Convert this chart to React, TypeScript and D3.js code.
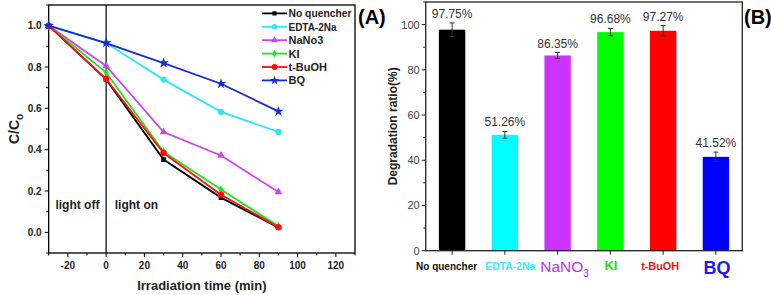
import { useEffect, useRef } from "react";
import * as d3 from "d3";

// panel A: C/C0 vs irradiation time
const times = [-30, 0, 30, 60, 90];
const seriesNames = ["No quencher", "EDTA-2Na", "NaNo3", "KI", "t-BuOH", "BQ"];
const noQuencher = [1.0, 0.74, 0.352, 0.168, 0.023];
const edta = [1.0, 0.916, 0.739, 0.583, 0.486];
const nano3 = [1.0, 0.805, 0.485, 0.372, 0.195];
const ki = [1.0, 0.773, 0.39, 0.207, 0.03];
const tbuoh = [1.0, 0.742, 0.384, 0.182, 0.025];
const bq = [1.0, 0.916, 0.819, 0.719, 0.585];
const lineColors = ["#000000", "#2ee6f0", "#cc44ee", "#22e022", "#ff1010", "#1a2ad6"];

// panel B: degradation ratio
const categories = ["No quencher", "EDTA-2Na", "NaNO3", "KI", "t-BuOH", "BQ"];
const ratios = [97.75, 51.26, 86.35, 96.68, 97.27, 41.52];
const ratioErrors = [3.0, 1.5, 1.3, 1.6, 2.3, 2.1];
const barColors = ["#000000", "#00ffff", "#cc33ff", "#00ff00", "#ff0000", "#0000ff"];

const FONT = "'Liberation Sans', Arial, sans-serif";

const App = () => {
  const ref = useRef<SVGSVGElement | null>(null);

  useEffect(() => {
    if (!ref.current) return;
    const svg = d3.select(ref.current);
    svg.selectAll("*").remove();
    svg.style("font-family", FONT);

    // ---------- panel A ----------
    const ax = { l: 48.7, r: 355, t: 5, b: 253 };
    const x = d3.scaleLinear().domain([-30, 130]).range([ax.l, ax.r]);
    const y = d3.scaleLinear().domain([-0.1, 1.1]).range([ax.b, ax.t]);
    const gA = svg.append("g");

    gA.append("rect")
      .attr("x", ax.l).attr("y", ax.t)
      .attr("width", ax.r - ax.l).attr("height", ax.b - ax.t)
      .attr("fill", "none").attr("stroke", "#000").attr("stroke-width", 1.3);

    // x ticks
    const xMajor = d3.range(-20, 121, 20);
    const xMinor = d3.range(-30, 131, 10).filter(v => !xMajor.includes(v));
    gA.selectAll(".xmaj").data(xMajor).enter().append("line")
      .attr("x1", d => x(d)).attr("x2", d => x(d))
      .attr("y1", ax.b).attr("y2", ax.b + 4).attr("stroke", "#000");
    gA.selectAll(".xmin").data(xMinor).enter().append("line")
      .attr("x1", d => x(d)).attr("x2", d => x(d))
      .attr("y1", ax.b).attr("y2", ax.b + 2.5).attr("stroke", "#000");
    gA.selectAll(".xlab").data(xMajor).enter().append("text")
      .attr("x", d => x(d)).attr("y", ax.b + 16)
      .attr("text-anchor", "middle").attr("font-size", 10).attr("font-weight", "bold")
      .attr("fill", "#222")
      .text(d => d);

    // y ticks
    const yMajor = [0, 0.2, 0.4, 0.6, 0.8, 1.0];
    const yMinor = [-0.1, 0.1, 0.3, 0.5, 0.7, 0.9, 1.1];
    gA.selectAll(".ymaj").data(yMajor).enter().append("line")
      .attr("x1", ax.l - 4).attr("x2", ax.l)
      .attr("y1", d => y(d)).attr("y2", d => y(d)).attr("stroke", "#000");
    gA.selectAll(".ymin").data(yMinor).enter().append("line")
      .attr("x1", ax.l - 2.5).attr("x2", ax.l)
      .attr("y1", d => y(d)).attr("y2", d => y(d)).attr("stroke", "#000");
    gA.selectAll(".ylab").data(yMajor).enter().append("text")
      .attr("x", ax.l - 7).attr("y", d => y(d) + 3.5)
      .attr("text-anchor", "end").attr("font-size", 10).attr("font-weight", "bold")
      .attr("fill", "#222")
      .text(d => d.toFixed(1));

    // vertical line at t=0
    gA.append("line")
      .attr("x1", x(0)).attr("x2", x(0)).attr("y1", ax.t).attr("y2", ax.b)
      .attr("stroke", "#000").attr("stroke-width", 1.2);

    gA.append("text").attr("x", x(-15)).attr("y", y(0.115))
      .attr("text-anchor", "middle").attr("font-size", 12).attr("font-weight", "bold")
      .attr("fill", "#222").text("light off");
    gA.append("text").attr("x", x(4.5)).attr("y", y(0.115))
      .attr("font-size", 12).attr("font-weight", "bold")
      .attr("fill", "#222").text("light on");

    const seriesValues = [noQuencher, edta, nano3, ki, tbuoh, bq];
    const symbols = [d3.symbolSquare, d3.symbolCircle, d3.symbolTriangle, d3.symbolDiamond, d3.symbolCircle, d3.symbolStar];
    const symSizes = [22, 30, 26, 22, 34, 34];
    const line = d3.line<number>().x((_, i) => x(times[i])).y(d => y(d));

    seriesValues.forEach((vals, si) => {
      gA.append("path").datum(vals)
        .attr("d", line)
        .attr("fill", "none").attr("stroke", lineColors[si]).attr("stroke-width", 1.8);
      const sym = d3.symbol().type(symbols[si]).size(symSizes[si]);
      gA.selectAll(`.pt${si}`).data(vals).enter().append("path")
        .attr("transform", (d, i) => `translate(${x(times[i])},${y(d)})`)
        .attr("d", sym()!)
        .attr("fill", lineColors[si]);
    });

    // legend
    const leg = gA.append("g");
    seriesNames.forEach((name, i) => {
      const ly = 13.4 + i * 13.4;
      leg.append("line").attr("x1", 262).attr("x2", 287).attr("y1", ly).attr("y2", ly)
        .attr("stroke", lineColors[i]).attr("stroke-width", 1.8);
      const sym = d3.symbol().type(symbols[i]).size(symSizes[i] * 0.8);
      leg.append("path").attr("transform", `translate(274.5,${ly})`)
        .attr("d", sym()!).attr("fill", lineColors[i]);
      const t = leg.append("text").attr("x", 288.5).attr("y", ly + 4)
        .attr("font-size", 11).attr("font-weight", "bold").attr("fill", "#222")
        .text(name);
      if (i === 0) t.attr("textLength", 63).attr("lengthAdjust", "spacingAndGlyphs");
      if (i === 1) t.attr("textLength", 48).attr("lengthAdjust", "spacingAndGlyphs");
    });

    gA.append("text").attr("x", 358).attr("y", 24)
      .attr("font-size", 20).attr("font-weight", "bold").text("(A)");

    // axis titles
    gA.append("text").attr("x", (ax.l + ax.r) / 2).attr("y", 290)
      .attr("text-anchor", "middle").attr("font-size", 13).attr("font-weight", "bold")
      .attr("fill", "#222").text("Irradiation time (min)");
    const yt = gA.append("text")
      .attr("transform", `translate(19,${(ax.t + ax.b) / 2}) rotate(-90)`)
      .attr("text-anchor", "middle").attr("font-size", 14).attr("font-weight", "bold")
      .attr("fill", "#222");
    yt.append("tspan").text("C/C");
    yt.append("tspan").attr("font-size", 10).attr("dy", 4).text("o");

    // ---------- panel B ----------
    const bx = { l: 425.7, r: 742.3, t: 2, b: 250.7 };
    const xb = d3.scaleBand<string>().domain(categories).range([bx.l, bx.r])
      .paddingInner(0.5).paddingOuter(0.25);
    const yb = d3.scaleLinear().domain([0, 110]).range([bx.b, bx.t]);
    const gB = svg.append("g");

    gB.selectAll(".bar").data(ratios).enter().append("rect")
      .attr("x", (_, i) => xb(categories[i])!)
      .attr("y", d => yb(d))
      .attr("width", xb.bandwidth())
      .attr("height", d => bx.b - yb(d))
      .attr("fill", (_, i) => barColors[i]);

    // error bars
    ratios.forEach((v, i) => {
      const cx = xb(categories[i])! + xb.bandwidth() / 2;
      const e = ratioErrors[i];
      const g = gB.append("g").attr("stroke", "#333").attr("stroke-width", 1);
      g.append("line").attr("x1", cx).attr("x2", cx).attr("y1", yb(v + e)).attr("y2", yb(v - e));
      g.append("line").attr("x1", cx - 2.5).attr("x2", cx + 2.5).attr("y1", yb(v + e)).attr("y2", yb(v + e));
      g.append("line").attr("x1", cx - 2.5).attr("x2", cx + 2.5).attr("y1", yb(v - e)).attr("y2", yb(v - e));
      gB.append("text").attr("x", cx).attr("y", yb(v + e) - 5)
        .attr("text-anchor", "middle").attr("font-size", 12).attr("fill", "#333")
        .text(`${v.toFixed(2)}%`);
    });

    gB.append("rect")
      .attr("x", bx.l).attr("y", bx.t)
      .attr("width", bx.r - bx.l).attr("height", bx.b - bx.t)
      .attr("fill", "none").attr("stroke", "#222").attr("stroke-width", 1.3);

    const ybMajor = [0, 20, 40, 60, 80, 100];
    const ybMinor = [10, 30, 50, 70, 90, 110];
    gB.selectAll(".ybmaj").data(ybMajor).enter().append("line")
      .attr("x1", bx.l - 4).attr("x2", bx.l)
      .attr("y1", d => yb(d)).attr("y2", d => yb(d)).attr("stroke", "#222");
    gB.selectAll(".ybmin").data(ybMinor).enter().append("line")
      .attr("x1", bx.l - 2.5).attr("x2", bx.l)
      .attr("y1", d => yb(d)).attr("y2", d => yb(d)).attr("stroke", "#222");
    gB.selectAll(".yblab").data(ybMajor).enter().append("text")
      .attr("x", bx.l - 6).attr("y", d => yb(d) + 4)
      .attr("text-anchor", "end").attr("font-size", 11).attr("fill", "#444")
      .text(d => d);
    gB.selectAll(".xbt").data(categories).enter().append("line")
      .attr("x1", d => xb(d)! + xb.bandwidth() / 2).attr("x2", d => xb(d)! + xb.bandwidth() / 2)
      .attr("y1", bx.b).attr("y2", bx.b + 4).attr("stroke", "#222");

    // category labels
    const labStyle = [
      { size: 11, weight: "bold", len: 61, dx: -5.5 },
      { size: 11, weight: "bold", len: 50, dx: 5.5 },
      { size: 15.5, weight: "normal", len: 0, dx: 7 },
      { size: 13, weight: "bold", len: 0, dx: 0.5 },
      { size: 11, weight: "bold", len: 38, dx: -3 },
      { size: 18, weight: "bold", len: 0, dx: 1 },
    ];
    const labColors = ["#111", "#33eeff", "#bb33ee", "#22dd22", "#ee1111", "#1a1aee"];
    categories.forEach((c, i) => {
      const cx = xb(c)! + xb.bandwidth() / 2 + labStyle[i].dx;
      const t = gB.append("text").attr("x", cx).attr("y", i === 5 ? 274 : i === 2 ? 272 : 270)
        .attr("text-anchor", "middle").attr("font-size", labStyle[i].size)
        .attr("font-weight", labStyle[i].weight).attr("fill", labColors[i]);
      if (c === "NaNO3") {
        t.append("tspan").text("NaNO");
        t.append("tspan").attr("font-size", 10).attr("dy", 5).text("3");
      } else {
        t.text(c);
        if (labStyle[i].len) t.attr("textLength", labStyle[i].len).attr("lengthAdjust", "spacingAndGlyphs");
      }
    });

    gB.append("text")
      .attr("transform", `translate(397,${(bx.t + bx.b) / 2}) rotate(-90)`)
      .attr("text-anchor", "middle").attr("font-size", 12).attr("font-weight", "bold")
      .attr("fill", "#222").text("Degradation ratio(%)");

    gB.append("text").attr("x", 744).attr("y", 24)
      .attr("font-size", 20).attr("font-weight", "bold").text("(B)");
  }, []);

  return (
    <svg ref={ref} width={771} height={295}
      style={{ position: "absolute", left: 0, top: 0, background: "#fff" }} />
  );
};

export default App;
